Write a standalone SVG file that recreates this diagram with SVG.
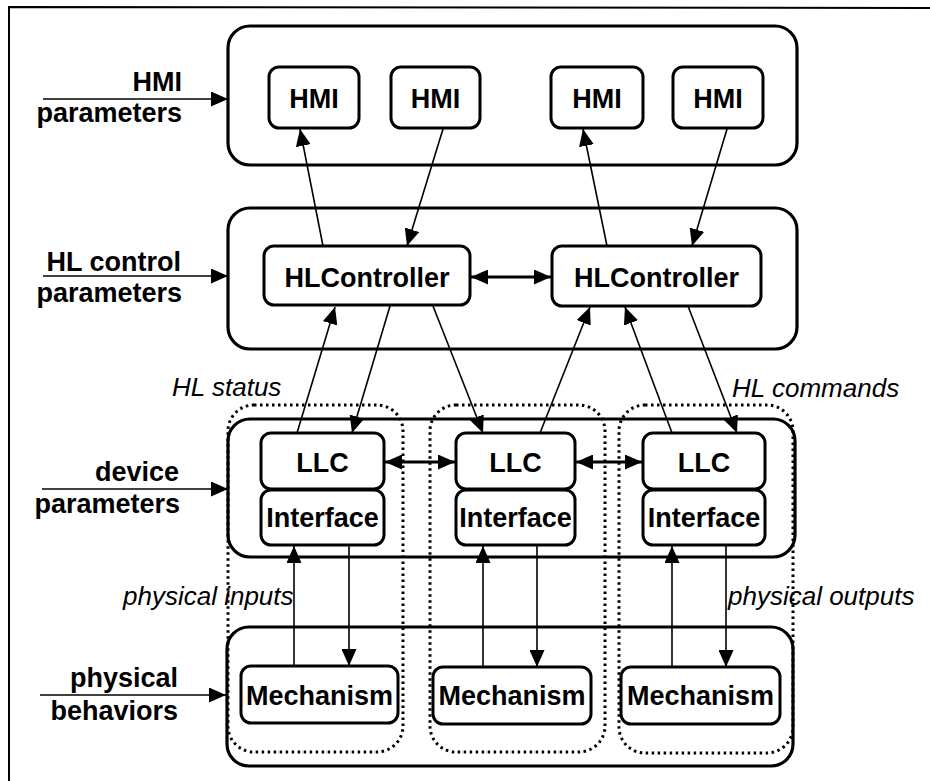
<svg xmlns="http://www.w3.org/2000/svg" width="930" height="781" viewBox="0 0 930 781">
<style>
.panel{fill:none;stroke:#000;stroke-width:3.2}
.box{fill:#fff;stroke:#000;stroke-width:3}
.dot{fill:none;stroke:#000;stroke-width:3;stroke-dasharray:2.5 3.5}
.lbl{font-family:"Liberation Sans",Arial,sans-serif;font-weight:bold;font-size:27px;fill:#000}
.it{font-family:"Liberation Sans",Arial,sans-serif;font-style:italic;font-size:26px;fill:#000}
.c{text-anchor:middle}
.r{text-anchor:end}
.ln{fill:none;stroke:#000;stroke-width:1.6;marker-end:url(#ah)}
.dbl{fill:none;stroke:#000;stroke-width:3;marker-end:url(#ah);marker-start:url(#ah)}
</style>
<defs>
<marker id="ah" markerUnits="userSpaceOnUse" markerWidth="18" markerHeight="15" refX="17" refY="7.5" orient="auto-start-reverse" viewBox="0 0 18 15">
<path d="M0,0 L17,7.5 L0,15 z" fill="#000"/>
</marker>
</defs>
<rect width="930" height="781" fill="#fff"/>
<path d="M9,781 L9,7 L930,8" fill="none" stroke="#000" stroke-width="2"/>

<g id="panels">
<rect class="panel" x="228" y="26" width="569" height="139" rx="22"/>
<rect class="panel" x="228" y="208" width="569" height="141" rx="22"/>
<rect class="panel" x="228" y="419" width="567" height="138" rx="22"/>
<rect class="panel" x="227" y="627" width="566" height="139" rx="22"/>
</g>

<g id="groups">
<rect class="dot" x="228" y="405" width="175" height="347" rx="26"/>
<rect class="dot" x="430" y="405" width="175" height="347" rx="26"/>
<rect class="dot" x="619" y="405" width="174" height="348" rx="26"/>
</g>

<g id="hmi1"><rect class="box" x="269" y="67" width="90" height="61" rx="10"/><text class="lbl c" x="314" y="108">HMI</text></g>
<g id="hmi2"><rect class="box" x="391" y="67" width="89" height="61" rx="10"/><text class="lbl c" x="435.5" y="108">HMI</text></g>
<g id="hmi3"><rect class="box" x="551" y="67" width="92" height="61" rx="10"/><text class="lbl c" x="597" y="108">HMI</text></g>
<g id="hmi4"><rect class="box" x="673" y="67" width="90" height="61" rx="10"/><text class="lbl c" x="718" y="108">HMI</text></g>

<g id="hlc1"><rect class="box" x="264" y="246" width="206" height="59" rx="10"/><text class="lbl c" x="367" y="287">HLController</text></g>
<g id="hlc2"><rect class="box" x="552" y="246" width="209" height="60" rx="10"/><text class="lbl c" x="656.5" y="287">HLController</text></g>

<g id="llc1"><rect class="box" x="261" y="433" width="123" height="56" rx="10"/><text class="lbl c" x="322.5" y="472">LLC</text></g>
<g id="if1"><rect class="box" x="261" y="490" width="123" height="55" rx="10"/><text class="lbl c" x="322.5" y="527">Interface</text></g>
<g id="llc2"><rect class="box" x="456" y="433" width="119" height="56" rx="10"/><text class="lbl c" x="515.5" y="472">LLC</text></g>
<g id="if2"><rect class="box" x="456" y="490" width="119" height="55" rx="10"/><text class="lbl c" x="515.5" y="527">Interface</text></g>
<g id="llc3"><rect class="box" x="643" y="433" width="122" height="56" rx="10"/><text class="lbl c" x="704" y="472">LLC</text></g>
<g id="if3"><rect class="box" x="643" y="490" width="122" height="55" rx="10"/><text class="lbl c" x="704" y="527">Interface</text></g>

<g id="mech1"><rect class="box" x="241" y="666" width="157" height="57" rx="10"/><text class="lbl c" x="319.5" y="705">Mechanism</text></g>
<g id="mech2"><rect class="box" x="433" y="667" width="158" height="57" rx="10"/><text class="lbl c" x="512" y="705">Mechanism</text></g>
<g id="mech3"><rect class="box" x="621" y="667" width="159" height="57" rx="10"/><text class="lbl c" x="700.5" y="705">Mechanism</text></g>

<g id="side-labels">
<text class="lbl r" x="182" y="91">HMI</text>
<text class="lbl r" x="182" y="122">parameters</text>
<text class="lbl r" x="181" y="271">HL control</text>
<text class="lbl r" x="182" y="302">parameters</text>
<text class="lbl r" x="179" y="481">device</text>
<text class="lbl r" x="180" y="513">parameters</text>
<text class="lbl r" x="178" y="687">physical</text>
<text class="lbl r" x="178" y="720">behaviors</text>
<text class="it" x="172" y="396">HL status</text>
<text class="it" x="732" y="397">HL commands</text>
<text class="it" x="123" y="605">physical inputs</text>
<text class="it" x="728" y="605">physical outputs</text>
</g>

<g id="connectors">
<line class="ln" x1="43" y1="99" x2="228" y2="99"/>
<line class="ln" x1="43" y1="276" x2="228" y2="276"/>
<line class="ln" x1="42" y1="489" x2="228" y2="489"/>
<line class="ln" x1="40" y1="695" x2="226" y2="695"/>

<line class="ln" x1="323" y1="246" x2="300" y2="129"/>
<line class="ln" x1="443" y1="129" x2="407" y2="246"/>
<line class="ln" x1="607" y1="246" x2="583" y2="129"/>
<line class="ln" x1="727" y1="129" x2="692" y2="246"/>
<line class="dbl" x1="471" y1="277" x2="551" y2="277"/>

<line class="ln" x1="297" y1="433" x2="335" y2="307"/>
<line class="ln" x1="390" y1="306" x2="352" y2="433"/>
<line class="ln" x1="433" y1="306" x2="483" y2="433"/>
<line class="ln" x1="540" y1="433" x2="590" y2="307"/>
<line class="ln" x1="672" y1="433" x2="625" y2="307"/>
<line class="ln" x1="688" y1="306" x2="737" y2="433"/>

<line class="dbl" x1="385" y1="462" x2="455" y2="462"/>
<line class="dbl" x1="576" y1="462" x2="642" y2="462"/>

<line class="ln" x1="294" y1="666" x2="294" y2="546"/>
<line class="ln" x1="349" y1="546" x2="349" y2="666"/>
<line class="ln" x1="483" y1="667" x2="483" y2="546"/>
<line class="ln" x1="537" y1="546" x2="537" y2="667"/>
<line class="ln" x1="672" y1="667" x2="672" y2="546"/>
<line class="ln" x1="726" y1="546" x2="726" y2="667"/>
</g>
</svg>
